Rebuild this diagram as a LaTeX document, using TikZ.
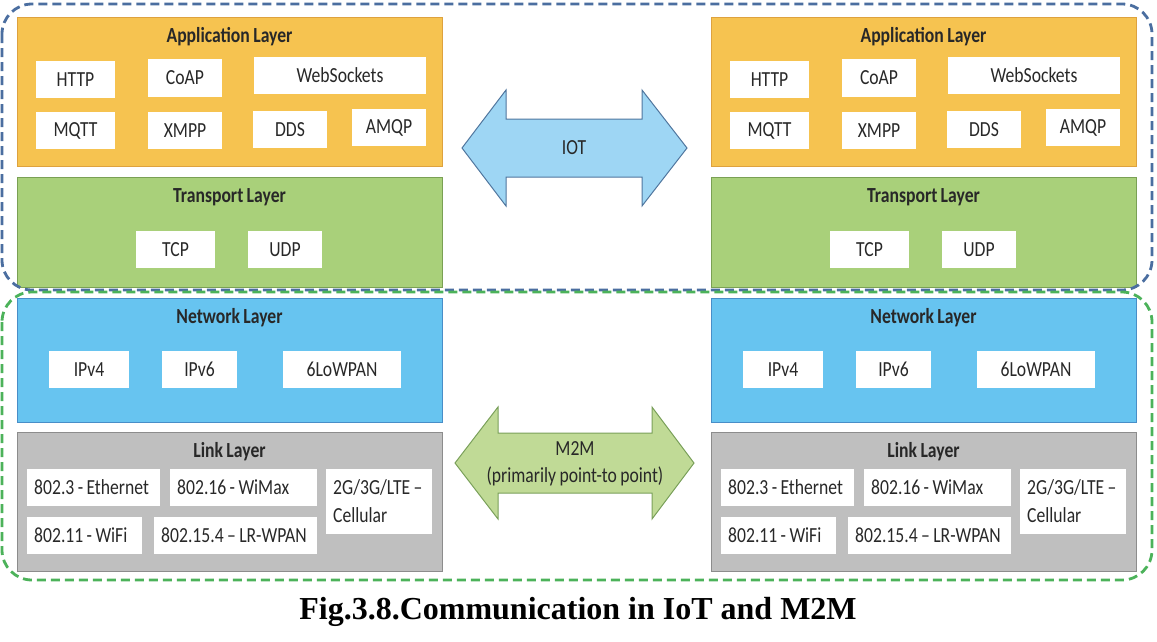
\documentclass[tikz,border=0pt]{standalone}
\usepackage{fontspec}
\setmainfont[FakeStretch=0.82, WordSpace=0.85]{Carlito}
\newfontfamily\capfont{Liberation Serif}
\usetikzlibrary{positioning}

\definecolor{appfill}{RGB}{246,195,80}
\definecolor{appline}{RGB}{222,162,62}
\definecolor{trfill}{RGB}{169,208,122}
\definecolor{trline}{RGB}{122,160,84}
\definecolor{netfill}{RGB}{103,196,240}
\definecolor{netline}{RGB}{72,142,200}
\definecolor{linkfill}{RGB}{191,191,191}
\definecolor{linkline}{RGB}{140,140,140}
\definecolor{iotfill}{RGB}{158,214,244}
\definecolor{iotline}{RGB}{80,118,158}
\definecolor{mfill}{RGB}{192,218,150}
\definecolor{mline}{RGB}{122,160,90}
\definecolor{iotdash}{RGB}{75,110,160}
\definecolor{mdash}{RGB}{76,178,90}
\definecolor{textgray}{RGB}{40,40,40}

% one line of link text, natural word spaces, no break
\newcommand{\linkline}[1]{\spaceskip=0pt\xspaceskip=0pt\relax\mbox{#1}}

\tikzset{
  layer/.style={draw, line width=1pt, minimum width=425pt, inner sep=0pt},
  layertitle/.style={font=\bfseries\fontsize{21.5}{24}\selectfont, text=textgray},
  proto/.style={fill=white, font=\fontsize{21.5}{24}\selectfont, text=textgray, inner sep=0pt, minimum height=37pt},
  linkproto/.style={proto, align=left, inner xsep=7pt, anchor=west},
  arrowtext/.style={font=\fontsize{21.5}{27}\selectfont, text=textgray, align=center},
  groupline/.style={line width=2.8pt, dash pattern=on 9pt off 5pt, rounded corners=30pt}
}

\begin{document}
\begin{tikzpicture}[x=1pt, y=-1pt]
\useasboundingbox (0,0) rectangle (1157,641);

% two protocol stacks
\foreach \s/\dx in {L/0,R/694}{
\begin{scope}[xshift=\dx pt]
  % application layer
  \node[layer, fill=appfill, draw=appline, minimum height=149pt] (\s-app) at (229.5,91.5) {};
  \node[layertitle] (\s-appt) at (229.5,37) {Application Layer};
  \node[proto, minimum width=79pt] (\s-http) at (75.5,79.5) {HTTP};
  \node[proto, minimum width=74pt, minimum height=38pt] (\s-coap) at (185,78) {CoAP};
  \node[proto, minimum width=172pt] (\s-ws) at (340,75.5) {WebSockets};
  \node[proto, minimum width=79pt] (\s-mqtt) at (75.5,130.5) {MQTT};
  \node[proto, minimum width=74pt] (\s-xmpp) at (185,130.5) {XMPP};
  \node[proto, minimum width=74pt] (\s-dds) at (290,129.5) {DDS};
  \node[proto, minimum width=74pt] (\s-amqp) at (389,127.5) {AMQP};

  % transport layer
  \node[layer, fill=trfill, draw=trline, minimum height=110pt] (\s-tr) at (229.5,232) {};
  \node[layertitle] (\s-trt) at (229.5,197) {Transport Layer};
  \node[proto, minimum width=79pt] (\s-tcp) at (175.5,249.5) {TCP};
  \node[proto, minimum width=74pt] (\s-udp) at (285,249.5) {UDP};

  % network layer
  \node[layer, fill=netfill, draw=netline, minimum height=124pt] (\s-net) at (229.5,360) {};
  \node[layertitle] (\s-nett) at (229.5,318) {Network Layer};
  \node[proto, minimum width=80pt] (\s-ip4) at (89,369.5) {IPv4};
  \node[proto, minimum width=75pt] (\s-ip6) at (199.5,369.5) {IPv6};
  \node[proto, minimum width=118pt] (\s-lowpan) at (342,369.5) {6LoWPAN};

  % link layer
  \node[layer, fill=linkfill, draw=linkline, minimum height=139pt] (\s-link) at (229.5,501.5) {};
  \node[layertitle] (\s-linkt) at (229.5,452) {Link Layer};
  \node[linkproto, text width=119pt] (\s-eth) at (27,487.5) {\linkline{802.3 - Ethernet}};
  \node[linkproto, text width=133pt] (\s-wimax) at (170,487.5) {\linkline{802.16 - WiMax}};
  \node[linkproto, text width=92pt, minimum height=65pt, font=\fontsize{21.5}{28}\selectfont] (\s-cell) at (326,501.5) {\linkline{2G/3G/LTE --}\\Cellular};
  \node[linkproto, text width=101pt] (\s-wifi) at (27,535.5) {\linkline{802.11 - WiFi}};
  \node[linkproto, text width=149pt] (\s-wpan) at (154,535.5) {\linkline{802.15.4 -- LR-WPAN}};
\end{scope}
}

% IOT arrow
\draw[fill=iotfill, draw=iotline, line width=1pt] (462,148) -- (506,90) -- (506,119) -- (642,119) -- (642,90) -- (687,148)
  -- (642,206) -- (642,177) -- (506,177) -- (506,206) -- cycle;
\node[arrowtext] (iot) at (574,148) {IOT};

% M2M arrow
\draw[fill=mfill, draw=mline, line width=1pt] (455,463) -- (498,407) -- (498,433) -- (652,433) -- (652,407) -- (694,463)
  -- (652,519) -- (652,493) -- (498,493) -- (498,519) -- cycle;
\node[arrowtext] (m2m) at (575,463.5) {M2M\\(primarily point-to point)};

% dashed groups
\draw[groupline, draw=iotdash] (2,4) rectangle (1152,290);
\draw[groupline, draw=mdash] (2,292) rectangle (1152,580);

\node[font=\capfont\bfseries\fontsize{32}{36}\selectfont] (caption) at (578,612) {Fig.3.8.Communication in IoT and M2M};
\end{tikzpicture}
\end{document}
